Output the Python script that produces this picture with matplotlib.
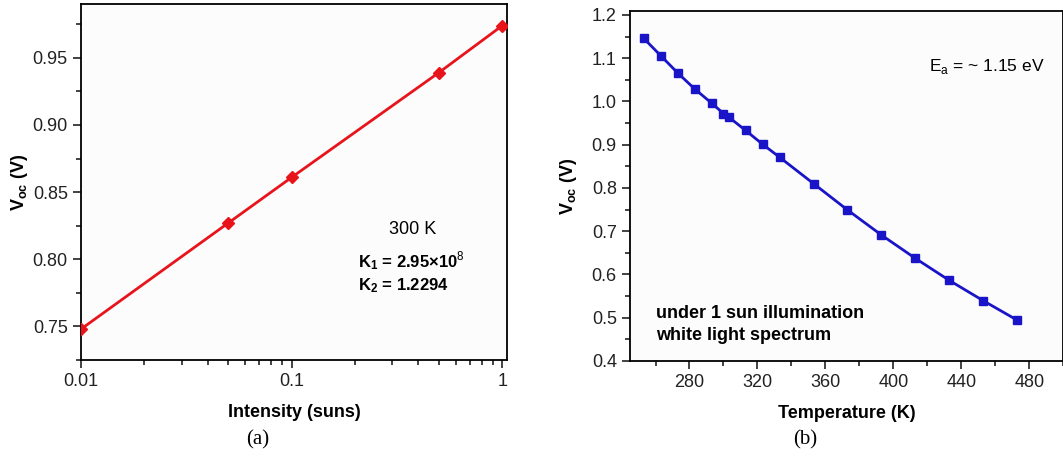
import matplotlib
matplotlib.use("Agg")
import matplotlib.pyplot as plt
from matplotlib.ticker import FixedLocator, MultipleLocator, NullFormatter, FuncFormatter
import numpy as np

# (a) Voc vs light intensity at 300 K
intensity = [0.01, 0.05, 0.1, 0.5, 1.0]
voc_intensity = [0.748, 0.827, 0.861, 0.939, 0.974]

# (b) Voc vs temperature under 1 sun
temperature = [253, 263, 273, 283, 293, 300, 303, 313, 323, 333,
               353, 373, 393, 413, 433, 453, 473]
voc_temperature = [1.146, 1.106, 1.066, 1.029, 0.996, 0.972, 0.964, 0.933,
                   0.901, 0.871, 0.810, 0.749, 0.691, 0.637, 0.586, 0.539, 0.494]

plt.rcParams['font.family'] = ['Liberation Sans', 'DejaVu Sans']
plt.rcParams['mathtext.fontset'] = 'custom'
plt.rcParams['mathtext.rm'] = 'Liberation Sans'
plt.rcParams['mathtext.bf'] = 'Liberation Sans:bold'

fig = plt.figure(figsize=(10.63, 4.58), dpi=100)
fig.patch.set_facecolor('white')

ax1 = fig.add_axes([0.0762, 0.214, 0.401, 0.777])
ax2 = fig.add_axes([0.5927, 0.212, 0.4075, 0.764])

for ax in (ax1, ax2):
    ax.set_facecolor('#fcfcfc')
    for s in ax.spines.values():
        s.set_linewidth(1.3)
    ax.tick_params(which='both', direction='out', top=False, right=False,
                   labelsize=13, width=1.2, color='#222222', labelcolor='#222222')
    ax.tick_params(which='major', length=6)
    ax.tick_params(which='minor', length=3.5)

# ---- panel (a)
ax1.plot(intensity, voc_intensity, color='#e8141c', lw=2, marker='D', ms=6.5, zorder=3)
ax1.set_xscale('log')
ax1.set_xlim(0.01, 1.056)
ax1.set_ylim(0.725, 0.99)
ax1.xaxis.set_major_locator(FixedLocator([0.01, 0.1, 1]))
ax1.xaxis.set_major_formatter(FuncFormatter(lambda v, p: {0.01: '0.01', 0.1: '0.1', 1: '1'}.get(round(v, 3), '')))
ax1.xaxis.set_minor_locator(FixedLocator([k * d for d in (0.01, 0.1) for k in range(2, 10)]))
ax1.xaxis.set_minor_formatter(NullFormatter())
ax1.yaxis.set_major_locator(FixedLocator([0.75, 0.80, 0.85, 0.90, 0.95]))
ax1.yaxis.set_major_formatter(FuncFormatter(lambda v, p: f'{v:.2f}'))
ax1.yaxis.set_minor_locator(MultipleLocator(0.025))
ax1.set_xlabel('Intensity (suns)', fontsize=13, fontweight='bold', labelpad=10)
ax1.set_ylabel(r'$\mathbf{V_{oc}}$ (V)', fontsize=13, fontweight='bold', labelpad=2)
ax1.text(0.777, 0.368, '300 K', transform=ax1.transAxes, fontsize=13, ha='center', va='center')
ax1.text(0.65, 0.278, r'$\mathbf{K_1}$ = 2.95×10$^{8}$', transform=ax1.transAxes,
         fontsize=12, fontweight='bold', va='center')
ax1.text(0.65, 0.208, r'$\mathbf{K_2}$ = 1.2294', transform=ax1.transAxes,
         fontsize=12, fontweight='bold', va='center')

# ---- panel (b)
ax2.plot(temperature, voc_temperature, color='#1a14c8', lw=2, marker='s', ms=6, zorder=3)
ax2.set_xlim(245, 500)
ax2.set_ylim(0.4, 1.209)
ax2.xaxis.set_major_locator(MultipleLocator(40))
ax2.xaxis.set_major_formatter(FuncFormatter(lambda v, p: f'{v:.0f}' if v >= 280 else ''))
ax2.xaxis.set_minor_locator(MultipleLocator(20))
ax2.yaxis.set_major_locator(MultipleLocator(0.1))
ax2.yaxis.set_major_formatter(FuncFormatter(lambda v, p: f'{v:.1f}'))
ax2.yaxis.set_minor_locator(MultipleLocator(0.05))
ax2.set_xlabel('Temperature (K)', fontsize=13, fontweight='bold', labelpad=10)
ax2.set_ylabel(r'$\mathbf{V_{oc}}$ (V)', fontsize=13, fontweight='bold', labelpad=9)
ax2.text(0.69, 0.84, r'E$_\mathrm{a}$ = ~ 1.15 eV', transform=ax2.transAxes, fontsize=12.5,
         va='center')
ax2.text(0.06, 0.104, 'under 1 sun illumination\nwhite light spectrum', transform=ax2.transAxes,
         fontsize=13, fontweight='bold', va='center', linespacing=1.45)

# panel captions
fig.text(0.242, 0.04, '(a)', fontsize=15, family='Liberation Serif', ha='center', va='center')
fig.text(0.757, 0.04, '(b)', fontsize=15, family='Liberation Serif', ha='center', va='center')

fig.savefig('out.png', dpi=100, facecolor='white')
